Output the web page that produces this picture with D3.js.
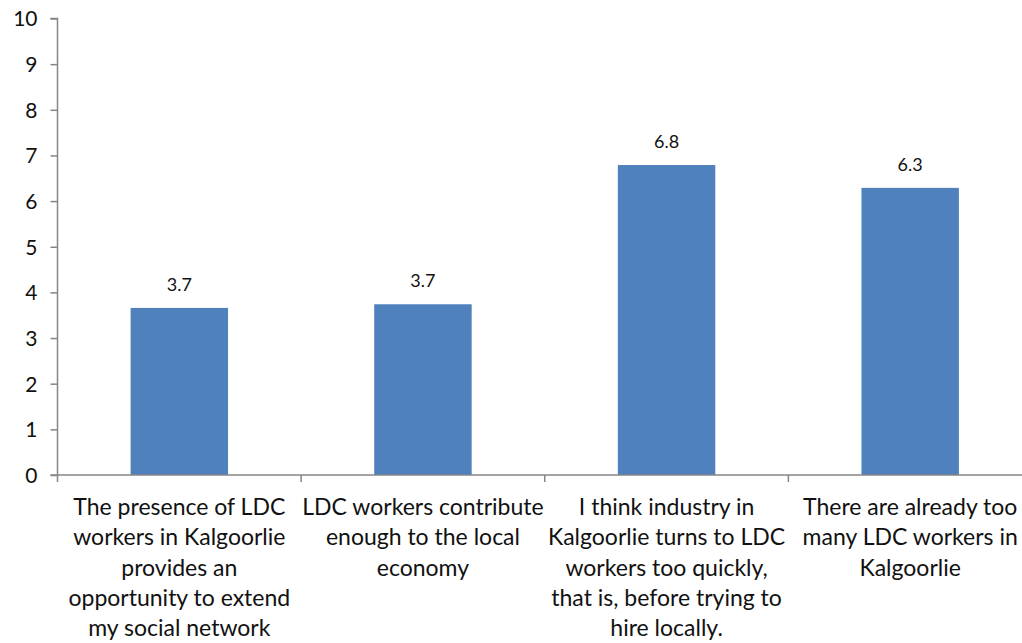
<!DOCTYPE html>
<html>
<head>
<meta charset="utf-8">
<script src="https://cdn.jsdelivr.net/npm/d3@7"></script>
<style>
  html, body { margin: 0; padding: 0; background: #fff; }
  svg { display: block; }
  text { font-family: Lato, "Noto Sans", sans-serif; fill: #111; }
</style>
</head>
<body>
<svg id="chart" width="1022" height="643"></svg>
<script>
const categories = [
  "The presence of LDC\nworkers in Kalgoorlie\nprovides an\nopportunity to extend\nmy social network",
  "LDC workers contribute\nenough to the local\neconomy",
  "I think industry in\nKalgoorlie turns to LDC\nworkers too quickly,\nthat is, before trying to\nhire locally.",
  "There are already too\nmany LDC workers in\nKalgoorlie"
];
const values = [3.66, 3.74, 6.79, 6.29];
const valueLabels = ["3.7", "3.7", "6.8", "6.3"];
const yTicks = [0, 1, 2, 3, 4, 5, 6, 7, 8, 9, 10];

const svg = d3.select("#chart");
const mLeft = 57.5, mRight = 1032, mTop = 18.5, mBottom = 475;

const x = d3.scaleBand().domain(categories).range([mLeft, mRight]).paddingInner(0.6).paddingOuter(0.3);
const xb = d3.scaleBand().domain(categories).range([mLeft, mRight]);
const y = d3.scaleLinear().domain([0, 10]).range([mBottom, mTop]);

// bars
svg.append("g").selectAll("rect").data(values).join("rect")
  .attr("x", (d, i) => x(categories[i]))
  .attr("width", x.bandwidth())
  .attr("y", d => y(d))
  .attr("height", d => y(0) - y(d))
  .attr("fill", "#4F81BD");

// data labels
svg.append("g").selectAll("text").data(values).join("text")
  .attr("x", (d, i) => x(categories[i]) + x.bandwidth() / 2)
  .attr("y", d => y(d) - 17)
  .attr("text-anchor", "middle")
  .style("font-size", "18px")
  .text((d, i) => valueLabels[i]);

// y axis
const yAxis = d3.axisLeft(y).tickValues(yTicks).tickSize(7).tickPadding(13).tickFormat(d3.format("d"));
const gy = svg.append("g").attr("transform", `translate(${mLeft},0)`).call(yAxis);
gy.select(".domain").attr("stroke", "#868686").attr("stroke-width", 1.5).attr("d", `M-7,${mTop}H0V${mBottom}H-7`);
gy.selectAll(".tick line").attr("stroke", "#868686").attr("stroke-width", 1.5);
gy.selectAll(".tick text").style("font-size", "21px").attr("fill", "#111").attr("dy", "0.35em");

// x axis
const gx = svg.append("g").attr("transform", `translate(0,${mBottom})`);
gx.append("line").attr("x1", mLeft).attr("x2", mRight).attr("stroke", "#868686").attr("stroke-width", 1.5);
gx.selectAll("line.tk").data(categories.concat(["end"])).join("line").attr("class", "tk")
  .attr("x1", (d, i) => mLeft + i * xb.bandwidth())
  .attr("x2", (d, i) => mLeft + i * xb.bandwidth())
  .attr("y1", 0).attr("y2", 7)
  .attr("stroke", "#868686").attr("stroke-width", 1.5);

// category labels
const lab = gx.selectAll("text.cat").data(categories).join("text").attr("class", "cat")
  .attr("text-anchor", "middle")
  .attr("transform", d => `translate(${xb(d) + xb.bandwidth() / 2},40)`)
  .style("font-size", "23px");
lab.each(function(d) {
  const t = d3.select(this);
  d.split("\n").forEach((line, k) => {
    t.append("tspan").attr("x", 0).attr("y", k * 30.3).text(line);
  });
});
</script>
</body>
</html>
